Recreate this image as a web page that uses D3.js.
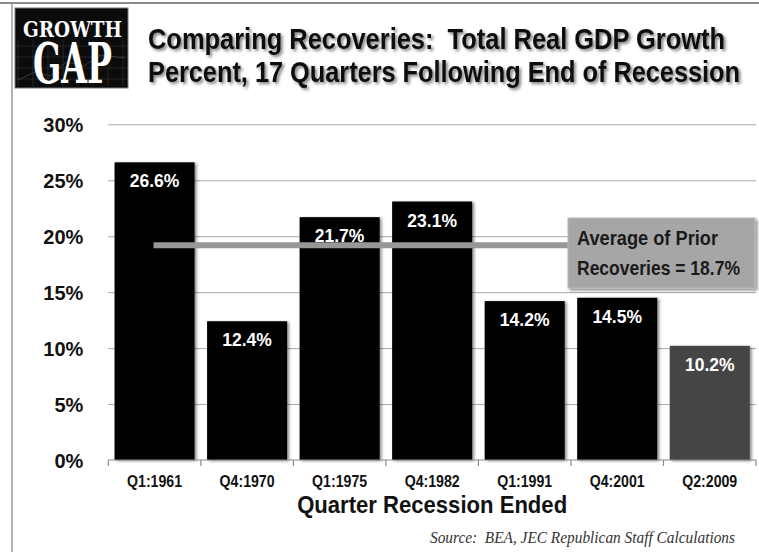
<!DOCTYPE html>
<html><head><meta charset="utf-8">
<script src="https://cdn.jsdelivr.net/npm/d3@7"></script>
<style>html,body{margin:0;padding:0;background:#fff;} svg{display:block;} text{white-space:pre;}</style>
</head><body>
<svg id="chart" width="759" height="552"></svg>
<script>
// ---- data ----
const categories = ["Q1:1961", "Q4:1970", "Q1:1975", "Q4:1982", "Q1:1991", "Q4:2001", "Q2:2009"];
const growth = [26.6, 12.4, 21.7, 23.1, 14.2, 14.5, 10.2];
const yTicks = [0, 5, 10, 15, 20, 25, 30];
const averagePrior = 18.7;        // value quoted in the callout
const averageLineLevel = 19.2;    // level at which the reference draws the average line
const titleLines = ["Comparing Recoveries:  Total Real GDP Growth", "Percent, 17 Quarters Following End of Recession"];
const xTitle = "Quarter Recession Ended";
const sourceText = "Source:  BEA, JEC Republican Staff Calculations";
const logoWords = ["GROWTH", "GAP"];

(function () {
const data = categories.map((c, i) => ({ cat: c, v: growth[i], last: i === categories.length - 1 }));

const svg = d3.select("#chart");
const narrow = "'Liberation Sans Narrow','Arial Narrow','Liberation Sans',Arial,sans-serif";
const sans = "'Liberation Sans',Arial,sans-serif";

// ---- filters ----
const defs = svg.append("defs");
const fTitle = defs.append("filter").attr("id", "tshadow").attr("x", "-5%").attr("y", "-20%").attr("width", "110%").attr("height", "150%");
fTitle.append("feDropShadow").attr("dx", 2).attr("dy", 2).attr("stdDeviation", 1.5).attr("flood-color", "#000").attr("flood-opacity", 0.5);
const fBar = defs.append("filter").attr("id", "bshadow").attr("x", "-10%").attr("y", "-10%").attr("width", "125%").attr("height", "120%");
fBar.append("feDropShadow").attr("dx", 2).attr("dy", 1).attr("stdDeviation", 1.6).attr("flood-color", "#000").attr("flood-opacity", 0.45);
const fBox = defs.append("filter").attr("id", "boxshadow").attr("x", "-10%").attr("y", "-10%").attr("width", "125%").attr("height", "130%");
fBox.append("feDropShadow").attr("dx", 2).attr("dy", 2).attr("stdDeviation", 1.5).attr("flood-color", "#000").attr("flood-opacity", 0.45);

// ---- frame ----
svg.append("line").attr("x1", 0).attr("x2", 759).attr("y1", 3).attr("y2", 3).attr("stroke", "#8a8a8a").attr("stroke-width", 2);
svg.append("line").attr("x1", 12).attr("x2", 12).attr("y1", 3).attr("y2", 552).attr("stroke", "#9a9a9a").attr("stroke-width", 1.5);

// ---- logo ----
const logo = svg.append("g");
logo.append("rect").attr("x", 15).attr("y", 8).attr("width", 113).attr("height", 80).attr("fill", "#0b0b0b").attr("stroke", "#777").attr("stroke-width", 1);
const lg = logo.append("g").attr("stroke", "#2e2e2e").attr("stroke-width", 0.7);
d3.range(0, 8).forEach(i => lg.append("line").attr("x1", 18 + i * 15).attr("x2", 18 + i * 15).attr("y1", 40).attr("y2", 86));
d3.range(0, 4).forEach(i => lg.append("line").attr("x1", 16).attr("x2", 127).attr("y1", 46 + i * 11).attr("y2", 46 + i * 11));
logo.append("polyline").attr("points", "18,80 35,72 50,76 66,62 84,66 100,55 125,58").attr("fill", "none").attr("stroke", "#3a3a3a").attr("stroke-width", 1);
logo.append("text").attr("x", 23).attr("y", 37).text(logoWords[0])
  .attr("font-family", "'DejaVu Serif Condensed','Liberation Serif',serif").attr("font-weight", "bold").attr("font-size", 22)
  .attr("fill", "#fff").attr("textLength", 99).attr("lengthAdjust", "spacingAndGlyphs");
logo.append("text").attr("x", 33).attr("y", 83).text(logoWords[1])
  .attr("font-family", "'DejaVu Serif Condensed','Liberation Serif',serif").attr("font-weight", "bold").attr("font-size", 56)
  .attr("fill", "#fff").attr("textLength", 79).attr("lengthAdjust", "spacingAndGlyphs");

// ---- title ----
const titleWidths = [577, 592];
svg.append("g").attr("filter", "url(#tshadow)").selectAll("text").data(titleLines).join("text")
  .attr("x", 148).attr("y", (d, i) => 49 + i * 32.5)
  .attr("font-family", narrow).attr("font-weight", "bold").attr("font-size", 30).attr("fill", "#111")
  .attr("textLength", (d, i) => titleWidths[i]).attr("lengthAdjust", "spacingAndGlyphs")
  .text(d => d);

// ---- scales ----
const pLeft = 108.3, pRight = 756, pTop = 124.3, pBottom = 460;
const x = d3.scaleBand().domain(categories).range([pLeft, pRight]).paddingInner(0.135).paddingOuter(0.0675);
const y = d3.scaleLinear().domain([0, 30]).range([pBottom, pTop]);

// gridlines + y labels
const yAxis = svg.append("g").attr("transform", `translate(${pLeft},0)`)
  .call(d3.axisLeft(y).tickValues(yTicks).tickSize(-(pRight - pLeft)).tickPadding(25).tickFormat(d => d + "%"));
yAxis.select(".domain").remove();
yAxis.selectAll(".tick line").attr("stroke", "#a8a8a8").attr("stroke-width", 1).filter(d => d === 0).remove();
yAxis.selectAll(".tick text").attr("font-family", sans).attr("font-weight", "bold").attr("font-size", 20)
  .attr("fill", "#111").attr("dy", "0.38em");

// bars
svg.append("g").selectAll("rect").data(data).join("rect")
  .attr("x", d => x(d.cat)).attr("width", x.bandwidth())
  .attr("y", d => y(d.v)).attr("height", d => y(0) - y(d.v))
  .attr("fill", d => d.last ? "#454545" : "#000")
  .attr("filter", "url(#bshadow)");

// value labels
svg.append("g").selectAll("text").data(data).join("text")
  .attr("x", d => x(d.cat) + x.bandwidth() / 2).attr("y", d => y(d.v) + 25)
  .attr("text-anchor", "middle").attr("font-family", sans).attr("font-weight", "bold").attr("font-size", 17.5)
  .attr("fill", "#fff").text(d => d.v.toFixed(1) + "%");

// x axis line + boundary ticks
const step = x.step();
const boundaries = d3.range(categories.length + 1).map(i => pLeft + i * step);
const xg = svg.append("g");
xg.append("line").attr("x1", pLeft).attr("x2", pRight).attr("y1", pBottom).attr("y2", pBottom).attr("stroke", "#8a8a8a").attr("stroke-width", 1.2);
xg.selectAll("line.tk").data(boundaries).join("line").attr("class", "tk")
  .attr("x1", d => d).attr("x2", d => d).attr("y1", pBottom).attr("y2", pBottom + 6).attr("stroke", "#8a8a8a").attr("stroke-width", 1.2);
const xAxis = svg.append("g").attr("transform", `translate(0,${pBottom})`)
  .call(d3.axisBottom(x).tickSize(0).tickPadding(0));
xAxis.select(".domain").remove();
xAxis.selectAll(".tick text").attr("y", 27).attr("dy", 0)
  .attr("font-family", narrow).attr("font-weight", "bold").attr("font-size", 16.5).attr("fill", "#111")
  .attr("textLength", 55).attr("lengthAdjust", "spacingAndGlyphs");

// x title
svg.append("text").attr("x", (pLeft + pRight) / 2).attr("y", 513).attr("text-anchor", "middle")
  .attr("font-family", narrow).attr("font-weight", "bold").attr("font-size", 24).attr("fill", "#111")
  .attr("textLength", 270).attr("lengthAdjust", "spacingAndGlyphs").text(xTitle);

// average line
const boxX = 568, boxW = 187, boxY = 218, boxH = 70;
svg.append("line")
  .attr("x1", x(categories[0]) + x.bandwidth() / 2 - 1).attr("x2", boxX)
  .attr("y1", y(averageLineLevel)).attr("y2", y(averageLineLevel))
  .attr("stroke", "#979797").attr("stroke-width", 6);

// callout
svg.append("rect").attr("x", boxX).attr("y", boxY).attr("width", boxW).attr("height", boxH)
  .attr("fill", "#a6a6a6").attr("stroke", "#b8b8b8").attr("stroke-width", 1).attr("filter", "url(#boxshadow)");
const legendLines = ["Average of Prior", `Recoveries = ${averagePrior}%`];
const legendWidths = [141, 163];
svg.append("g").selectAll("text").data(legendLines).join("text")
  .attr("x", 577).attr("y", (d, i) => 245 + i * 30)
  .attr("font-family", narrow).attr("font-weight", "bold").attr("font-size", 21).attr("fill", "#1a1a1a")
  .attr("textLength", (d, i) => legendWidths[i]).attr("lengthAdjust", "spacingAndGlyphs")
  .text(d => d);

// source
svg.append("text").attr("x", 430).attr("y", 543)
  .attr("font-family", "'Liberation Serif','Times New Roman',serif").attr("font-style", "italic").attr("font-size", 16)
  .attr("fill", "#333").attr("textLength", 305).attr("lengthAdjust", "spacingAndGlyphs").text(sourceText);
})();
</script>
</body></html>
